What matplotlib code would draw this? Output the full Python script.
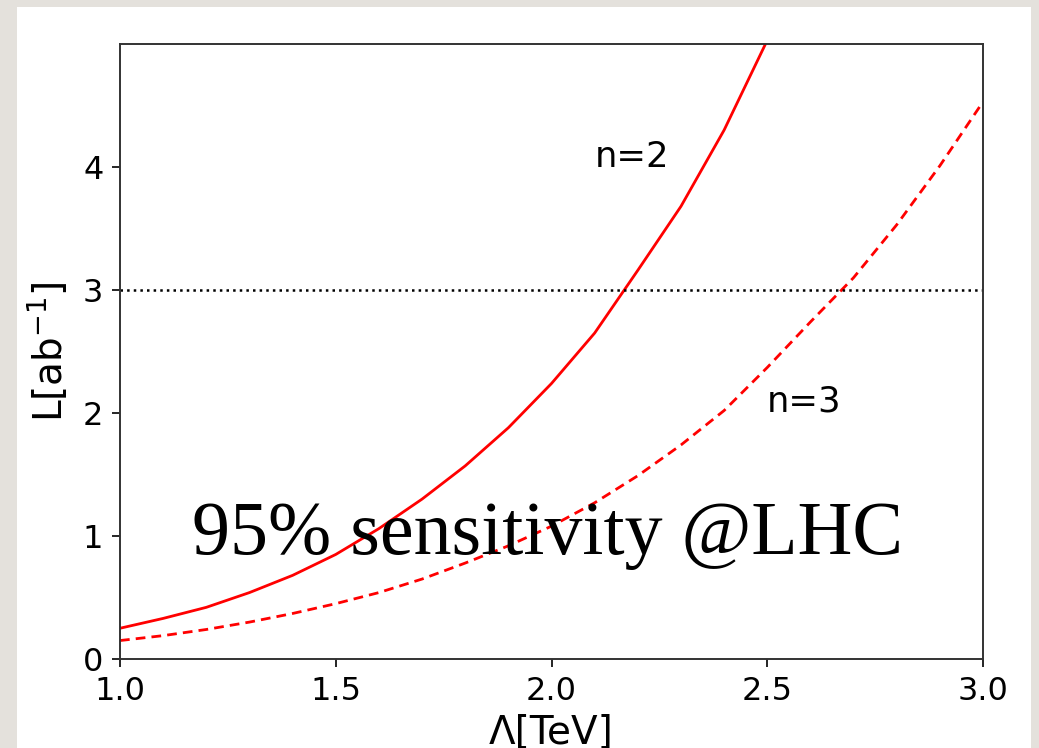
import numpy as np
import matplotlib
matplotlib.use("Agg")
import matplotlib.pyplot as plt
from matplotlib.patches import Rectangle

# cutoff scale (TeV)
lam = [1.0, 1.1, 1.2, 1.3, 1.4, 1.5, 1.6, 1.7, 1.8, 1.9, 2.0,
       2.1, 2.2, 2.3, 2.4, 2.5, 2.6, 2.7, 2.8, 2.9, 3.0]
# required luminosity (ab^-1)
lumi_n2 = [0.25, 0.33, 0.42, 0.54, 0.68, 0.85, 1.06, 1.30, 1.57, 1.88, 2.24,
           2.65, 3.16, 3.68, 4.30, 5.03, 5.85, 6.80, 7.90, 9.10, 10.5]
lumi_n3 = [0.15, 0.19, 0.24, 0.30, 0.37, 0.45, 0.54, 0.65, 0.78, 0.92, 1.08,
           1.27, 1.49, 1.74, 2.02, 2.37, 2.74, 3.10, 3.53, 4.01, 4.53]
lumi_hl = 3.0
yticks = [0, 1, 2, 3, 4]
xticks = [1.0, 1.5, 2.0, 2.5, 3.0]

fig = plt.figure(figsize=(10.39, 7.48), dpi=100)
fig.patch.set_facecolor('#e4e1dc')
# white slide panel, kept behind the axes
fig.patches.append(Rectangle((17/1039, 0), (1031-17)/1039, (748-7)/748,
                             transform=fig.transFigure, facecolor='white',
                             edgecolor='none', zorder=-5))

ax = fig.add_axes([120/1039, 89/748, 863/1039, 615/748])
ax.set_zorder(2)
ax.plot(lam, lumi_n2, color='red', lw=2.0)
ax.plot(lam, lumi_n3, color='red', lw=2.0, ls='--', dashes=(3.5, 2.2))
ax.axhline(lumi_hl, color='black', lw=1.8, ls=':')

ax.set_xlim(1.0, 3.0)
ax.set_ylim(0, 5.0)
ax.set_xticks(xticks)
ax.set_yticks(yticks)
ax.tick_params(labelsize=23, width=1.2, length=6)
ax.tick_params(axis='x', pad=6.5)
ax.tick_params(axis='y', pad=6)
for s in ax.spines.values():
    s.set_linewidth(1.4)
    s.set_color('#333333')

ax.set_xlabel('Λ[TeV]', fontsize=28, labelpad=5)
ax.set_ylabel(r'L[ab$^{-1}$]', fontsize=28, labelpad=9)

ax.text(2.10, 4.08, 'n=2', fontsize=25.5, va='center', ha='left')
ax.text(2.50, 2.09, 'n=3', fontsize=25.5, va='center', ha='left')
ax.text(1.167, 0.85, '95% sensitivity @LHC', fontsize=54.6, va='baseline',
        ha='left', family='Liberation Serif')

fig.savefig('out.png', dpi=100, facecolor=fig.get_facecolor())
